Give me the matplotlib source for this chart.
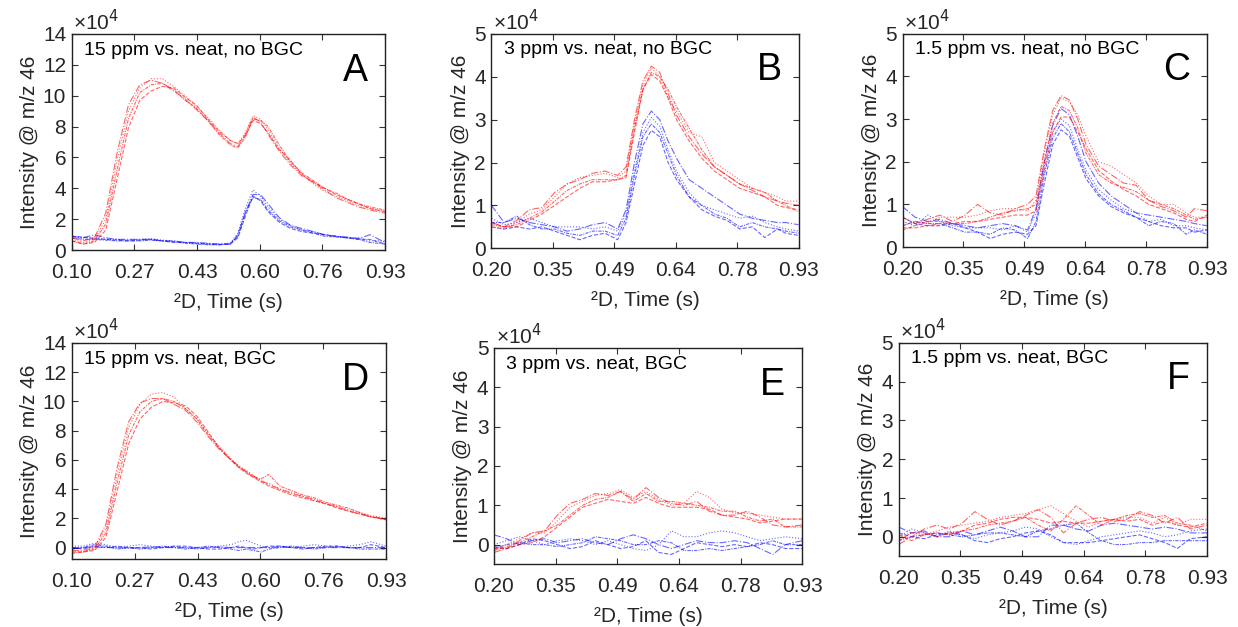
import numpy as np
import matplotlib.pyplot as plt

plt.rcParams['font.family'] = ['Liberation Sans', 'DejaVu Sans']

# second-dimension time grids (s)
t_a = [0.10, 0.13, 0.16, 0.19, 0.22, 0.25, 0.28, 0.31, 0.34, 0.37, 0.40, 0.43, 0.46, 0.49, 0.52,
       0.54, 0.56, 0.58, 0.60, 0.62, 0.65, 0.68, 0.71, 0.74, 0.77, 0.80, 0.83, 0.86, 0.89, 0.93]
t_b = [0.20, 0.23, 0.26, 0.29, 0.32, 0.35, 0.38, 0.41, 0.44, 0.47, 0.50, 0.52, 0.54, 0.56,
       0.58, 0.60, 0.62, 0.64, 0.67, 0.70, 0.73, 0.76, 0.79, 0.82, 0.85, 0.88, 0.90, 0.93]
t_e = [0.20, 0.23, 0.26, 0.29, 0.32, 0.35, 0.38, 0.41, 0.44, 0.47, 0.50, 0.53, 0.56,
       0.59, 0.62, 0.65, 0.68, 0.71, 0.74, 0.77, 0.80, 0.83, 0.86, 0.89, 0.93]

# intensities in units of 1e4, red = spiked, blue = neat
red_a = [
    [0.8, 0.6, 0.8, 2.4, 6.3, 9.4, 10.7, 11.0, 10.8, 10.3, 9.8, 9.1, 8.4, 7.6, 6.9, 6.7, 7.5, 8.6, 8.3, 7.5, 6.4, 5.5, 4.8, 4.4, 3.9, 3.4, 3.1, 2.8, 2.6, 2.4],
    [0.7, 0.5, 0.7, 2.0, 5.8, 9.0, 10.5, 11.1, 11.1, 10.6, 10.0, 9.3, 8.6, 7.8, 7.1, 6.9, 7.6, 8.7, 8.5, 7.8, 6.6, 5.6, 4.9, 4.3, 3.8, 3.5, 3.2, 2.9, 2.7, 2.5],
    [0.6, 0.4, 0.6, 1.7, 5.2, 8.5, 10.2, 10.7, 10.8, 10.4, 9.7, 9.2, 8.4, 7.5, 6.8, 6.6, 7.3, 8.5, 8.4, 8.0, 6.8, 5.7, 5.0, 4.5, 4.0, 3.7, 3.3, 3.0, 2.8, 2.6],
    [0.6, 0.4, 0.5, 1.3, 4.6, 7.9, 9.7, 10.3, 10.6, 10.5, 9.9, 9.4, 8.5, 7.7, 7.1, 6.9, 7.4, 8.4, 8.2, 7.6, 6.5, 5.8, 4.9, 4.4, 4.0, 3.6, 3.3, 3.0, 2.7, 2.5],
]
blue_a = [
    [0.9, 0.8, 1.0, 0.8, 0.7, 0.7, 0.7, 0.7, 0.6, 0.6, 0.5, 0.5, 0.45, 0.4, 0.4, 0.9, 2.4, 3.6, 3.6, 3.0, 2.1, 1.6, 1.4, 1.2, 1.0, 0.9, 0.85, 0.75, 1.0, 0.5],
    [0.8, 0.8, 0.8, 0.7, 0.7, 0.65, 0.7, 0.75, 0.65, 0.6, 0.5, 0.45, 0.4, 0.4, 0.45, 1.1, 2.7, 3.9, 3.5, 2.8, 2.0, 1.6, 1.3, 1.2, 1.0, 0.9, 0.8, 0.8, 0.6, 0.6],
    [0.8, 0.7, 0.7, 0.65, 0.6, 0.6, 0.6, 0.65, 0.6, 0.55, 0.45, 0.4, 0.35, 0.35, 0.4, 1.0, 2.5, 3.4, 3.3, 2.6, 1.9, 1.5, 1.3, 1.1, 0.9, 0.85, 0.8, 0.7, 0.5, 0.4],
    [0.9, 0.85, 0.75, 0.7, 0.65, 0.6, 0.65, 0.7, 0.6, 0.5, 0.5, 0.45, 0.4, 0.35, 0.4, 0.8, 2.2, 3.5, 3.2, 2.5, 1.8, 1.4, 1.2, 1.1, 1.0, 0.9, 0.8, 0.7, 0.7, 0.4],
]
red_b = [
    [0.6, 0.5, 0.65, 0.9, 0.95, 1.3, 1.5, 1.6, 1.75, 1.8, 1.7, 1.9, 3.0, 3.9, 4.25, 4.1, 3.6, 3.1, 2.6, 2.2, 1.9, 1.7, 1.5, 1.35, 1.2, 1.1, 1.05, 1.0],
    [0.5, 0.45, 0.6, 0.8, 0.9, 1.2, 1.5, 1.65, 1.7, 1.75, 1.65, 1.8, 2.9, 3.8, 4.2, 4.0, 3.5, 3.2, 2.7, 2.6, 2.0, 1.8, 1.6, 1.4, 1.3, 1.2, 1.1, 1.1],
    [0.55, 0.5, 0.55, 0.7, 0.85, 1.1, 1.35, 1.5, 1.6, 1.6, 1.6, 1.7, 2.8, 3.7, 4.1, 4.0, 3.7, 3.3, 2.8, 2.3, 1.9, 1.7, 1.5, 1.4, 1.3, 1.1, 1.0, 0.85],
    [0.6, 0.5, 0.5, 0.65, 0.8, 1.0, 1.2, 1.4, 1.55, 1.55, 1.6, 1.65, 2.7, 3.7, 4.05, 3.9, 3.5, 3.0, 2.5, 2.1, 1.8, 1.6, 1.4, 1.3, 1.2, 1.0, 0.95, 0.9],
]
blue_b = [
    [1.0, 0.6, 0.7, 0.6, 0.55, 0.5, 0.4, 0.45, 0.55, 0.6, 0.45, 0.9, 2.0, 2.9, 3.2, 3.0, 2.5, 2.1, 1.6, 1.4, 1.2, 1.0, 0.8, 0.7, 0.65, 0.6, 0.6, 0.55],
    [0.7, 0.55, 0.6, 0.7, 0.6, 0.5, 0.5, 0.5, 0.45, 0.5, 0.4, 0.8, 1.8, 2.7, 3.05, 2.85, 2.3, 1.8, 1.3, 1.0, 0.9, 0.8, 0.7, 0.75, 0.6, 0.5, 0.45, 0.4],
    [0.6, 0.6, 0.75, 0.55, 0.45, 0.45, 0.35, 0.3, 0.4, 0.4, 0.3, 0.7, 1.7, 2.6, 2.9, 2.7, 2.2, 1.7, 1.2, 1.0, 0.8, 0.7, 0.5, 0.6, 0.5, 0.45, 0.4, 0.35],
    [0.5, 0.45, 0.5, 0.45, 0.5, 0.4, 0.3, 0.2, 0.3, 0.35, 0.2, 0.6, 1.5, 2.4, 2.75, 2.6, 2.0, 1.6, 1.2, 0.9, 0.75, 0.65, 0.45, 0.5, 0.25, 0.45, 0.35, 0.3],
]
red_c = [
    [0.7, 0.55, 0.65, 0.75, 0.6, 0.75, 1.0, 0.8, 0.75, 0.9, 1.0, 1.2, 2.3, 3.2, 3.55, 3.45, 3.0, 2.4, 1.9, 1.7, 1.5, 1.45, 1.1, 0.95, 0.85, 0.7, 0.9, 0.85],
    [0.5, 0.6, 0.55, 0.7, 0.7, 0.7, 0.75, 0.85, 0.9, 0.9, 0.85, 1.1, 2.2, 3.1, 3.5, 3.4, 3.1, 2.6, 2.0, 1.9, 1.7, 1.5, 1.2, 1.0, 1.0, 0.8, 0.7, 0.7],
    [0.4, 0.5, 0.6, 0.6, 0.55, 0.55, 0.6, 0.7, 0.8, 0.85, 0.9, 1.0, 2.0, 2.9, 3.3, 3.2, 2.8, 2.2, 1.7, 1.5, 1.4, 1.3, 1.1, 1.0, 0.9, 0.75, 0.65, 0.7],
    [0.45, 0.45, 0.5, 0.55, 0.55, 0.6, 0.6, 0.65, 0.7, 0.75, 0.75, 0.85, 1.8, 2.7, 3.05, 3.05, 2.7, 2.3, 1.8, 1.55, 1.35, 1.2, 1.0, 0.9, 0.8, 0.65, 0.6, 0.75],
]
blue_c = [
    [0.95, 0.7, 0.6, 0.65, 0.55, 0.5, 0.45, 0.5, 0.55, 0.5, 0.4, 0.9, 2.0, 2.85, 3.25, 3.1, 2.6, 2.0, 1.5, 1.2, 1.0, 0.8, 0.75, 0.7, 0.65, 0.6, 0.55, 0.5],
    [0.6, 0.5, 0.75, 0.6, 0.5, 0.45, 0.45, 0.45, 0.4, 0.5, 0.35, 0.8, 1.9, 2.7, 3.0, 2.85, 2.3, 1.8, 1.35, 1.1, 0.9, 0.8, 0.6, 0.65, 0.5, 0.5, 0.45, 0.4],
    [0.5, 0.6, 0.55, 0.55, 0.45, 0.35, 0.35, 0.3, 0.45, 0.4, 0.2, 0.6, 1.7, 2.55, 2.9, 2.7, 2.2, 1.7, 1.25, 1.0, 0.85, 0.7, 0.5, 0.6, 0.55, 0.3, 0.4, 0.3],
    [0.7, 0.55, 0.5, 0.5, 0.55, 0.45, 0.35, 0.2, 0.3, 0.35, 0.3, 0.5, 1.5, 2.4, 2.75, 2.6, 2.1, 1.6, 1.2, 0.95, 0.8, 0.7, 0.6, 0.5, 0.45, 0.45, 0.35, 0.4],
]
red_d = [
    [-0.2, -0.2, 0.0, 1.6, 5.5, 8.6, 9.9, 10.2, 10.2, 9.8, 9.4, 8.6, 7.6, 6.7, 6.0, 5.6, 5.2, 4.9, 4.6, 4.3, 4.0, 3.7, 3.5, 3.3, 3.0, 2.8, 2.5, 2.3, 2.1, 2.0],
    [-0.3, -0.3, 0.0, 1.3, 5.0, 8.2, 9.8, 10.5, 10.6, 10.3, 9.5, 8.8, 7.8, 6.9, 6.1, 5.6, 5.3, 4.9, 4.5, 4.4, 4.0, 3.8, 3.5, 3.2, 3.0, 2.8, 2.6, 2.4, 2.2, 2.0],
    [-0.4, -0.3, -0.1, 1.0, 4.5, 7.7, 9.3, 10.0, 10.2, 10.0, 9.5, 8.8, 7.7, 6.8, 6.0, 5.5, 5.2, 4.8, 4.7, 5.0, 4.2, 3.9, 3.6, 3.4, 3.1, 2.9, 2.7, 2.4, 2.1, 1.9],
    [-0.3, -0.3, -0.2, 0.7, 3.9, 7.1, 8.8, 9.6, 10.0, 9.9, 9.7, 9.0, 7.9, 6.8, 6.0, 5.5, 5.1, 4.8, 4.5, 4.2, 3.9, 3.6, 3.4, 3.2, 3.0, 2.7, 2.5, 2.3, 2.1, 1.9],
]
blue_d = [
    [0.0, 0.0, 0.05, 0.0, 0.0, -0.05, 0.0, 0.05, 0.0, 0.0, 0.0, -0.05, 0.0, 0.05, 0.0, 0.0, 0.0, 0.0, 0.0, 0.0, 0.05, 0.0, 0.0, 0.0, 0.0, 0.0, 0.0, 0.0, 0.0, 0.0],
    [0.1, 0.1, 0.3, 0.2, 0.0, 0.1, 0.2, 0.1, 0.0, 0.1, 0.0, -0.1, 0.0, 0.1, 0.2, 0.4, 0.5, 0.3, 0.1, 0.0, 0.1, 0.0, 0.1, 0.2, 0.1, 0.0, 0.1, 0.2, 0.4, 0.1],
    [-0.1, 0.0, 0.2, 0.1, -0.1, 0.0, -0.1, 0.0, 0.1, 0.0, -0.1, 0.0, 0.1, 0.0, -0.1, -0.2, -0.1, -0.2, -0.3, -0.1, 0.0, 0.1, 0.0, -0.1, 0.0, 0.1, 0.0, -0.1, -0.1, -0.1],
    [0.0, -0.1, 0.1, 0.0, 0.1, 0.0, 0.0, -0.1, 0.0, 0.1, 0.1, 0.0, -0.1, -0.1, 0.0, 0.1, 0.0, -0.1, 0.0, 0.1, 0.1, 0.0, -0.1, 0.0, 0.1, 0.1, 0.0, 0.0, 0.2, 0.0],
]
red_e = [
    [-0.2, -0.1, 0.1, 0.3, 0.35, 0.75, 1.05, 1.15, 1.3, 1.25, 1.35, 1.15, 1.45, 1.2, 1.05, 1.0, 1.1, 0.85, 0.75, 0.75, 0.85, 0.7, 0.5, 0.45, 0.5],
    [-0.1, 0.0, 0.15, 0.3, 0.3, 0.6, 0.95, 1.1, 1.25, 1.3, 1.4, 1.2, 1.35, 1.15, 1.0, 1.05, 1.35, 1.2, 0.9, 0.8, 0.8, 0.75, 0.7, 0.65, 0.65],
    [-0.15, -0.05, 0.05, 0.2, 0.35, 0.5, 0.75, 1.0, 1.15, 1.2, 1.35, 1.1, 1.3, 1.1, 1.1, 1.05, 1.0, 0.95, 0.85, 0.85, 0.7, 0.6, 0.65, 0.45, 0.45],
    [-0.1, -0.1, 0.0, 0.05, 0.2, 0.45, 0.7, 0.95, 1.05, 1.15, 1.1, 1.05, 1.2, 1.05, 0.95, 0.95, 0.95, 0.9, 0.75, 0.7, 0.65, 0.55, 0.6, 0.65, 0.65],
]
blue_e = [
    [0.25, 0.15, 0.0, 0.1, 0.15, 0.05, 0.1, 0.15, 0.05, 0.0, 0.15, 0.25, 0.15, 0.0, -0.1, 0.0, 0.1, 0.05, 0.05, 0.1, 0.05, -0.1, -0.25, 0.0, 0.1],
    [0.0, 0.1, 0.2, 0.1, 0.0, 0.1, 0.15, 0.1, 0.0, 0.1, 0.0, -0.1, -0.15, 0.0, 0.35, 0.2, 0.2, 0.3, 0.35, 0.3, 0.2, 0.1, 0.15, 0.2, 0.15],
    [-0.1, 0.0, 0.05, 0.0, 0.0, -0.05, 0.0, 0.05, 0.2, 0.15, 0.1, 0.0, 0.0, 0.1, 0.05, -0.15, -0.15, -0.1, -0.15, -0.1, -0.05, 0.0, 0.1, 0.0, 0.0],
    [-0.05, -0.1, 0.0, 0.15, 0.1, 0.0, -0.1, -0.05, 0.1, 0.0, -0.1, -0.05, 0.1, -0.2, -0.25, -0.1, 0.05, 0.0, -0.05, 0.0, -0.05, 0.05, 0.0, -0.1, -0.1],
]
red_f = [
    [-0.2, 0.0, 0.2, 0.3, 0.2, 0.35, 0.65, 0.45, 0.3, 0.4, 0.55, 0.7, 0.5, 0.1, 0.35, 0.45, 0.5, 0.4, 0.45, 0.65, 0.55, 0.35, 0.5, 0.2, 0.3],
    [0.0, 0.1, 0.05, 0.15, 0.25, 0.3, 0.35, 0.4, 0.5, 0.55, 0.6, 0.7, 0.8, 0.6, 0.4, 0.25, 0.4, 0.45, 0.5, 0.5, 0.35, 0.5, 0.3, 0.45, 0.45],
    [-0.1, 0.1, 0.1, 0.0, 0.1, 0.15, 0.2, 0.3, 0.35, 0.4, 0.5, 0.3, 0.15, 0.45, 0.8, 0.55, 0.3, 0.45, 0.55, 0.6, 0.5, 0.55, 0.35, 0.3, 0.15],
    [0.05, -0.1, 0.05, 0.1, 0.05, 0.15, 0.3, 0.35, 0.45, 0.5, 0.5, 0.45, 0.35, 0.4, 0.35, 0.35, 0.4, 0.45, 0.4, 0.45, 0.3, 0.4, 0.3, 0.25, 0.35],
]
blue_f = [
    [0.25, 0.1, 0.15, 0.0, 0.0, 0.15, 0.05, 0.15, 0.25, 0.15, 0.0, 0.0, 0.3, 0.3, 0.2, 0.15, 0.3, 0.35, 0.3, 0.25, 0.2, 0.25, 0.2, 0.1, 0.1],
    [0.0, 0.2, 0.1, 0.0, 0.15, 0.05, -0.05, 0.05, 0.1, 0.15, 0.25, 0.2, 0.0, -0.15, -0.2, -0.1, 0.0, 0.05, 0.1, 0.15, 0.1, 0.0, 0.05, 0.15, 0.2],
    [-0.1, 0.0, 0.05, 0.1, 0.05, 0.0, 0.05, 0.1, 0.1, 0.05, 0.0, 0.15, 0.2, 0.3, 0.35, 0.1, -0.1, -0.2, -0.2, -0.15, -0.15, -0.1, -0.1, -0.1, -0.1],
    [0.1, 0.0, -0.05, 0.05, 0.1, 0.05, -0.1, -0.15, -0.05, 0.0, 0.1, 0.15, 0.05, -0.15, -0.15, -0.15, -0.1, -0.05, 0.0, 0.05, -0.05, -0.15, -0.3, -0.05, 0.0],
]

titles = ["15 ppm vs. neat, no BGC", "3 ppm vs. neat, no BGC", "1.5 ppm vs. neat, no BGC",
          "15 ppm vs. neat, BGC", "3 ppm vs. neat, BGC", "1.5 ppm vs. neat, BGC"]
letters = ["A", "B", "C", "D", "E", "F"]

panels = [
    (t_a, red_a, blue_a, (0.10, 0.93), (0, 14), range(0, 15, 2)),
    (t_b, red_b, blue_b, (0.20, 0.93), (0, 5), range(0, 6)),
    (t_b, red_c, blue_c, (0.20, 0.93), (0, 5), range(0, 6)),
    (t_a, red_d, blue_d, (0.10, 0.93), (-0.8, 14), range(0, 15, 2)),
    (t_e, red_e, blue_e, (0.20, 0.93), (-0.5, 5), range(0, 6)),
    (t_e, red_f, blue_f, (0.20, 0.93), (-0.5, 5), range(0, 6)),
]

# axes boxes in figure fractions [left, bottom, width, height]
boxes = [
    [0.058, 0.601, 0.253, 0.345],
    [0.397, 0.604, 0.248, 0.342],
    [0.729, 0.606, 0.246, 0.340],
    [0.058, 0.108, 0.254, 0.345],
    [0.399, 0.100, 0.249, 0.345],
    [0.726, 0.113, 0.249, 0.340],
]

styles = ['-.', ':', (0, (3, 1, 1, 1)), '--']
tick_col = '#262626'

fig = plt.figure(figsize=(12.38, 6.27), dpi=100)

for i, (t, reds, blues, xl, yl, yt) in enumerate(panels):
    ax = fig.add_axes(boxes[i])
    for k, y in enumerate(blues):
        ax.plot(t, y, color='blue', lw=0.8, ls=styles[k], alpha=0.6)
    for k, y in enumerate(reds):
        ax.plot(t, y, color='red', lw=0.8, ls=styles[k], alpha=0.6)
    ax.set_xlim(*xl)
    ax.set_ylim(*yl)
    xt = np.linspace(xl[0], xl[1], 6)
    ax.set_xticks(xt)
    ax.set_xticklabels([f"{v:.2f}" for v in xt])
    ax.set_yticks(list(yt))
    ax.tick_params(direction='in', top=True, right=True, length=4, labelsize=15,
                   labelcolor=tick_col, color='#333333')
    ax.tick_params(axis='x', pad=9)
    ax.tick_params(axis='y', pad=4)
    for s in ax.spines.values():
        s.set_linewidth(1.0)
        s.set_color('#222222')
    ax.set_xlabel("²D, Time (s)", fontsize=15, color=tick_col, labelpad=8)
    ax.set_ylabel("Intensity @ m/z 46", fontsize=15, color=tick_col, labelpad=3)
    ax.text(0.005, 1.0, "×10$^4$", transform=ax.transAxes, fontsize=15,
            color=tick_col, ha='left', va='bottom')
    ax.text(0.04, 0.925, titles[i], transform=ax.transAxes, fontsize=14,
            ha='left', va='center', color='black')
    ax.text(0.945, 0.83, letters[i], transform=ax.transAxes, fontsize=27,
            ha='right', va='center', color='black')

fig.savefig("out.png", dpi=100)
